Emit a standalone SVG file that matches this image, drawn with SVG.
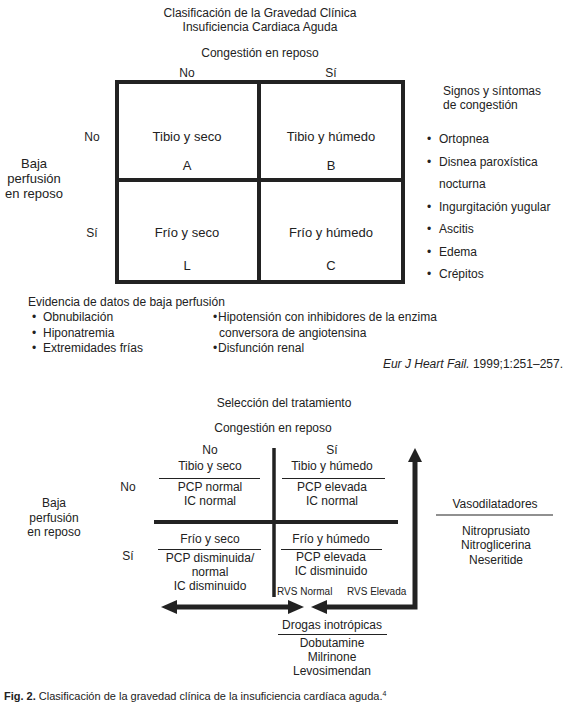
<svg xmlns="http://www.w3.org/2000/svg" width="572" height="713" viewBox="0 0 572 713">
<style>
text{font-family:"Liberation Sans",Arial,sans-serif;fill:#222;font-size:12px}
.c{text-anchor:middle}
.e{text-anchor:end}
.big{font-size:13px}
.sm{font-size:10px}
.cap{font-size:11px}
.grid{stroke:#222;stroke-width:4;fill:none}
.ul{stroke:#222;stroke-width:1.2}
.ln{stroke:#222;stroke-width:3.5;fill:none}
.arr{stroke:#222;stroke-width:5;fill:none}
.head{fill:#222}
</style>
<rect width="572" height="713" fill="#fff"/>

<g id="title">
<text x="260" y="17" class="c">Clasificación de la Gravedad Clínica</text>
<text x="260" y="31" class="c">Insuficiencia Cardiaca Aguda</text>
</g>

<g id="top-headers">
<text x="260" y="57" class="c">Congestión en reposo</text>
<text x="187" y="77" class="c">No</text>
<text x="331" y="77" class="c">Sí</text>
<text x="92" y="141" class="c">No</text>
<text x="92" y="237" class="c">Sí</text>
<text x="34" y="168" class="c big">Baja</text>
<text x="34" y="183" class="c big">perfusión</text>
<text x="34" y="198" class="c big">en reposo</text>
</g>

<g id="top-grid">
<rect x="117" y="82" width="286" height="200" class="grid"/>
<line x1="259" y1="82" x2="259" y2="282" class="grid"/>
<line x1="117" y1="180" x2="403" y2="180" class="grid"/>
</g>

<g id="cell-A"><text x="187" y="141" class="c big">Tibio y seco</text><text x="187" y="170" class="c big">A</text></g>
<g id="cell-B"><text x="331" y="141" class="c big">Tibio y húmedo</text><text x="331" y="170" class="c big">B</text></g>
<g id="cell-L"><text x="187" y="237" class="c big">Frío y seco</text><text x="187" y="270" class="c big">L</text></g>
<g id="cell-C"><text x="331" y="237" class="c big">Frío y húmedo</text><text x="331" y="270" class="c big">C</text></g>

<g id="congestion-signs">
<text x="443" y="95">Signos y síntomas</text>
<text x="443" y="109">de congestión</text>
<text x="427" y="143">•</text><text x="439" y="143">Ortopnea</text>
<text x="427" y="166">•</text><text x="439" y="166">Disnea paroxística</text>
<text x="439" y="188">nocturna</text>
<text x="427" y="211">•</text><text x="439" y="211">Ingurgitación yugular</text>
<text x="427" y="233">•</text><text x="439" y="233">Ascitis</text>
<text x="427" y="256">•</text><text x="439" y="256">Edema</text>
<text x="427" y="278">•</text><text x="439" y="278">Crépitos</text>
</g>

<g id="low-perfusion">
<text x="28" y="306">Evidencia de datos de baja perfusión</text>
<text x="32" y="321">•</text><text x="43" y="321">Obnubilación</text>
<text x="32" y="337">•</text><text x="43" y="337">Hiponatremia</text>
<text x="32" y="352">•</text><text x="43" y="352">Extremidades frías</text>
<text x="213" y="321">•</text><text x="218" y="321">Hipotensión con inhibidores de la enzima</text>
<text x="219" y="337">conversora de angiotensina</text>
<text x="213" y="352">•</text><text x="218" y="352">Disfunción renal</text>
</g>

<g id="citation">
<text x="563" y="368" class="e"><tspan font-style="italic">Eur J Heart Fail.</tspan> 1999;1:251–257.</text>
</g>

<g id="bottom-headers">
<text x="284" y="407" class="c">Selección del tratamiento</text>
<text x="273" y="432" class="c">Congestión en reposo</text>
<text x="128" y="491" class="c">No</text>
<text x="128" y="560" class="c">Sí</text>
<text x="54" y="507" class="c">Baja</text>
<text x="54" y="521.5" class="c">perfusión</text>
<text x="54" y="536" class="c">en reposo</text>
</g>

<g id="bottom-grid">
<line x1="274" y1="448" x2="274" y2="597" class="ln"/>
<line x1="154" y1="522" x2="398" y2="522" class="grid"/>
</g>

<g id="quad-warm-dry">
<text x="210" y="454" class="c">No</text>
<text x="210" y="469.5" class="c">Tibio y seco</text>
<line x1="159" y1="478.5" x2="260" y2="478.5" class="ul"/>
<text x="210" y="491" class="c">PCP normal</text>
<text x="210" y="504.5" class="c">IC normal</text>
</g>
<g id="quad-warm-wet">
<text x="332" y="454" class="c">Sí</text>
<text x="332" y="469.5" class="c">Tibio y húmedo</text>
<line x1="282" y1="478.5" x2="385" y2="478.5" class="ul"/>
<text x="332" y="491" class="c">PCP elevada</text>
<text x="332" y="504.5" class="c">IC normal</text>
</g>
<g id="quad-cold-dry">
<text x="210" y="543" class="c">Frío y seco</text>
<line x1="158" y1="549.5" x2="261" y2="549.5" class="ul"/>
<text x="210" y="562" class="c">PCP disminuida/</text>
<text x="210" y="576" class="c">normal</text>
<text x="210" y="590" class="c">IC disminuido</text>
</g>
<g id="quad-cold-wet">
<text x="331" y="542.5" class="c">Frío y húmedo</text>
<line x1="281" y1="549.5" x2="382" y2="549.5" class="ul"/>
<text x="331" y="561" class="c">PCP elevada</text>
<text x="331" y="574.5" class="c">IC disminuido</text>
<text x="277" y="595" class="sm">RVS Normal</text>
<text x="347" y="595" class="sm">RVS Elevada</text>
</g>

<g id="vasodilators">
<text x="495" y="508" class="c">Vasodilatadores</text>
<line x1="436" y1="515" x2="553" y2="515" class="ul"/>
<text x="496" y="534.5" class="c">Nitroprusiato</text>
<text x="496" y="549" class="c">Nitroglicerina</text>
<text x="496" y="563.5" class="c">Neseritide</text>
</g>

<g id="inotropes">
<text x="332" y="628.5" class="c">Drogas inotrópicas</text>
<line x1="278" y1="634.5" x2="387" y2="634.5" class="ul"/>
<text x="332" y="647" class="c">Dobutamine</text>
<text x="332" y="661" class="c">Milrinone</text>
<text x="332" y="675" class="c">Levosimendan</text>
</g>

<g id="connectors">
<polyline points="326,607 415,607 415,461" class="arr"/>
<polygon points="415,448 408,462 422,462" class="head"/>
<polygon points="311,607 327,600 327,614" class="head"/>
<line x1="175" y1="607" x2="290" y2="607" class="arr"/>
<polygon points="161,607 177,600 177,614" class="head"/>
<polygon points="304,607 288,600 288,614" class="head"/>
</g>

<g id="caption">
<text x="4" y="700" class="cap"><tspan font-weight="bold">Fig. 2.</tspan> Clasificación de la gravedad clínica de la insuficiencia cardíaca aguda.<tspan font-size="7" dy="-4">4</tspan></text>
</g>
</svg>
